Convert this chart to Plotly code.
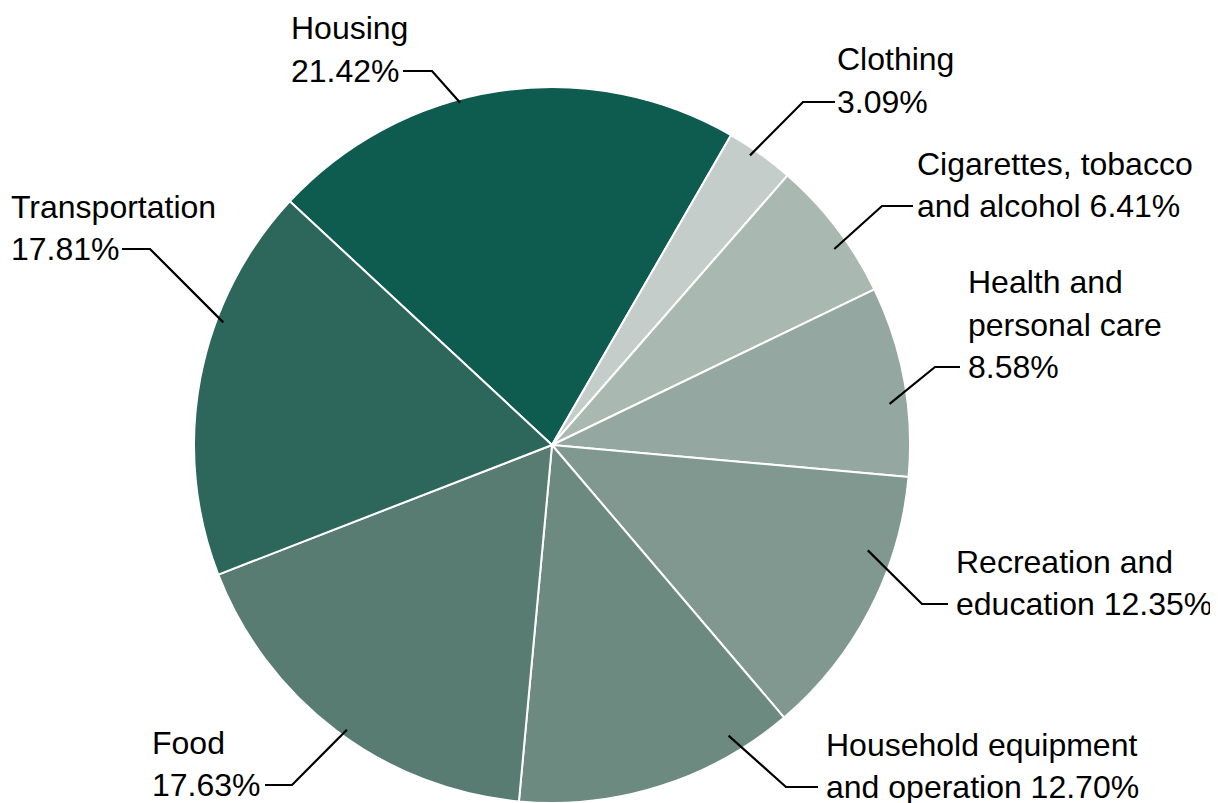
import math
import plotly.graph_objects as go

# ---- data ----
categories = ["Housing", "Clothing", "Cigarettes, tobacco and alcohol",
              "Health and personal care", "Recreation and education",
              "Household equipment and operation", "Food", "Transportation"]
values = [21.42, 3.09, 6.41, 8.58, 12.35, 12.70, 17.63, 17.81]
# label text lines (value appended to the last line)
label_lines = [["Housing", ""], ["Clothing", ""], ["Cigarettes, tobacco", "and alcohol "],
               ["Health and", "personal care", ""], ["Recreation and", "education "],
               ["Household equipment", "and operation "], ["Food", ""], ["Transportation", ""]]
colors = ["#0d5c4f", "#c4cdc9", "#aab8b2", "#94a7a0", "#80988f", "#6c8a7f", "#587c72", "#2d665b"]

# ---- layout parameters ----
OFF = 8                      # page body margin
W, H = 1218 - OFF, 803 - OFF  # figure size
ROTATION = -47.1
DOM_X = [(194 - OFF) / W, (910 - OFF) / W]
DOM_Y = [0.0, (803 - 87) / H]
LINE_GAP = 42.5
TEXT_PAD = 3
FONT = dict(family="Liberation Sans, Arial, sans-serif", size=32, color="#000000")
# per label (screen px): fraction along slice, radial fraction, text x, last-line y, elbow x, line end x
label_pos = [
    (0.416, 0.99, 292, 71, 432, 403),
    (0.39, 0.98, 838, 102, 803, 835),
    (0.61, 0.96, 918, 206, 882, 913),
    (0.61, 0.95, 969, 367, 935, 960),
    (0.30, 0.93, 957, 604, 922, 948),
    (0.20, 0.95, 827, 787, 786, 818),
    (0.48, 0.98, 153, 785, 292, 265),
    (0.65, 0.98, 12, 249, 150, 122),
]

fig = go.Figure(go.Pie(
    labels=categories, values=values, sort=False, direction="clockwise",
    rotation=ROTATION, textinfo="none", hoverinfo="label+percent",
    marker=dict(colors=colors, line=dict(color="#ffffff", width=2)),
    domain=dict(x=DOM_X, y=DOM_Y), showlegend=False,
))

# pie centre / radius in screen px
cx = OFF + W * (DOM_X[0] + DOM_X[1]) / 2
cy = OFF + H * (1 - (DOM_Y[0] + DOM_Y[1]) / 2)
R = min(W * (DOM_X[1] - DOM_X[0]), H * (DOM_Y[1] - DOM_Y[0])) / 2
total = sum(values)


def px(x):
    return (x - OFF) / W


def py(y):
    return 1 - (y - OFF) / H


annotations, shapes = [], []
cum = 0.0
for i, v in enumerate(values):
    frac, rf, tx, ty, ex, lx = label_pos[i]
    a0 = ROTATION + 360 * cum / total
    span = 360 * v / total
    ang = math.radians(a0 + frac * span)
    ix = cx + rf * R * math.sin(ang)
    iy = cy - rf * R * math.cos(ang)
    cum += v
    lines = list(label_lines[i])
    lines[-1] = lines[-1] + f"{v:.2f}%"
    n = len(lines)
    for k, t in enumerate(lines):
        annotations.append(dict(
            x=px(tx - TEXT_PAD), y=py(ty - LINE_GAP * (n - 1 - k)), xref="paper", yref="paper",
            text=t, showarrow=False, xanchor="left", yanchor="middle", font=FONT,
        ))
    shapes.append(dict(
        type="path", xref="paper", yref="paper",
        path=f"M {px(lx)} {py(ty)} L {px(ex)} {py(ty)} L {px(ix)} {py(iy)}",
        line=dict(color="#000000", width=2.2),
    ))

fig.update_layout(
    width=W, height=H, margin=dict(l=0, r=0, t=0, b=0),
    paper_bgcolor="#ffffff", plot_bgcolor="#ffffff",
    annotations=annotations, shapes=shapes,
)
fig.write_html("out.html")
